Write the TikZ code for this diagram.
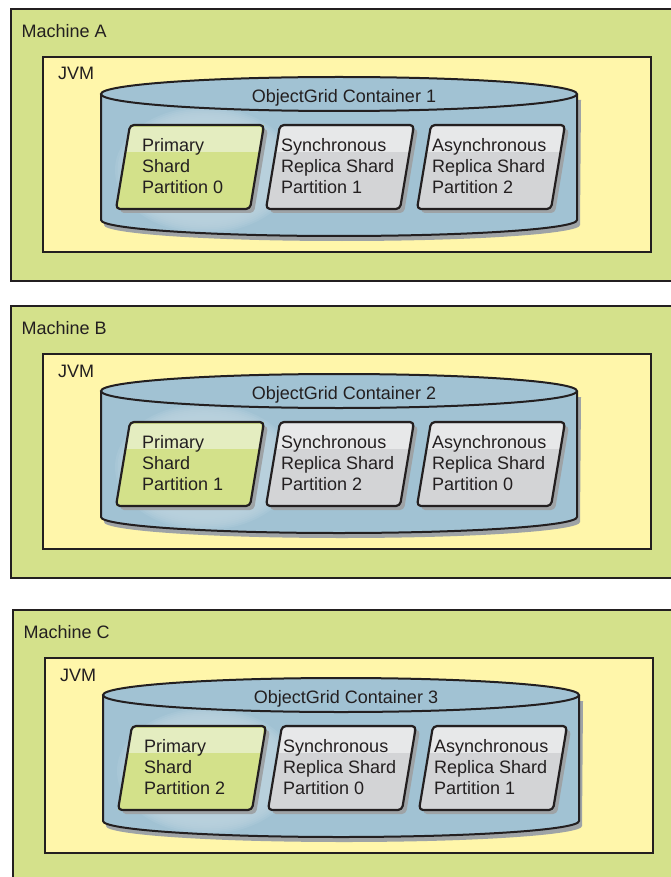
\documentclass[tikz,border=0pt]{standalone}
\usepackage{fontspec}
\setmainfont{Liberation Sans}
\usepackage{xcolor}
\definecolor{inkdark}{HTML}{231F20}
\definecolor{machgreen}{HTML}{D4E18B}
\definecolor{jvmyellow}{HTML}{FFF6AA}
\definecolor{cylblue}{HTML}{A1C2D3}
\definecolor{glowblue}{HTML}{BCD3DF}
\definecolor{shardgreen}{HTML}{D3E18A}
\definecolor{bandgreen}{HTML}{E4EDC0}
\definecolor{shardgray}{HTML}{D3D4D6}
\definecolor{bandgray}{HTML}{E7E8E9}
\definecolor{shadowgray}{HTML}{9EA3A6}
\usepackage{tikz}
\usetikzlibrary{positioning}
\tikzset{
  machbox/.style   = {draw=inkdark,line width=2pt,fill=machgreen},
  jvmbox/.style    = {draw=inkdark,line width=2pt,fill=jvmyellow},
  cylline/.style   = {draw=inkdark,line width=2pt},
  shardline/.style = {draw=inkdark,line width=2.2pt,rounded corners=4pt,
                      line join=round},
  lbl/.style       = {font=\fontsize{18}{21}\selectfont,text=inkdark,
                      inner sep=0pt},
  shardtxt/.style  = {lbl,align=left,anchor=north west},
}

\begin{document}
\begin{tikzpicture}[x=1pt,y=-1pt]
  \useasboundingbox (0,0) rectangle (670,877);

  \foreach \m/\dx/\dy/\c/\pp/\sp/\ap in {A/0/0/1/0/1/2,B/0/297/2/1/2/0,C/2/601/3/2/0/1}{
  \begin{scope}[shift={(\dx,\dy)}]
    % machine and JVM frames
    \draw[machbox] (11,9) rectangle (690,281);
    \node[lbl,anchor=base west] (mach\m) at (21.5,37.5) {Machine \m};
    \draw[jvmbox] (43,57) rectangle (651,252);
    \node[lbl,anchor=base west] (jvm\m) at (58,80) {JVM};

    % container cylinder
    \fill[shadowgray] (104,100) -- (104,225)
       arc[start angle=180,end angle=0,x radius=238,y radius=16] -- (581,100) -- cycle;
    \begin{scope}
      \clip (101,94) -- (101,220)
         arc[start angle=180,end angle=0,x radius=238,y radius=16] -- (577,94) -- cycle;
      \fill[cylblue] (90,80) rectangle (590,240);
      \foreach \r in {0,...,7}
        \fill[glowblue,opacity=0.25] (205,170)
           ellipse [x radius=90-2.5*\r,y radius=63-1.8*\r];
    \end{scope}
    \draw[cylline] (101,94) -- (101,220)
       arc[start angle=180,end angle=0,x radius=238,y radius=16] -- (577,94);
    \draw[cylline,fill=cylblue] (339,94) ellipse [x radius=238,y radius=17];
    \node[lbl,anchor=base] (cont\m) at (344,102.5) {ObjectGrid Container \c};

    % shards
    \foreach \k/\L/\ind/\body/\band/\txt in {
        prim/130/12/shardgreen/bandgreen/{Primary\\Shard\\Partition \pp},
        sync/280/1/shardgray/bandgray/{Synchronous\\Replica Shard\\Partition \sp},
        async/431/1/shardgray/bandgray/{Asynchronous\\Replica Shard\\Partition \ap}}{
      \fill[shadowgray,rounded corners=4pt]
         (\L+4,129) -- (\L+138,129) -- (\L+124,213) -- (\L-10,213) -- cycle;
      \begin{scope}
        \clip (\L,125) -- (\L+134,125) -- (\L+120,209) -- (\L-14,209) -- cycle;
        \fill[\body] (\L-20,120) rectangle (\L+140,215);
        \fill[\band] (\L-20,127) rectangle (\L+131,152);
      \end{scope}
      \draw[shardline] (\L,125) -- (\L+134,125) -- (\L+120,209) -- (\L-14,209) -- cycle;
      \node[shardtxt] (\k\m) at (\L+\ind,138.5) {\txt};
    }
  \end{scope}
  }
\end{tikzpicture}
\end{document}
